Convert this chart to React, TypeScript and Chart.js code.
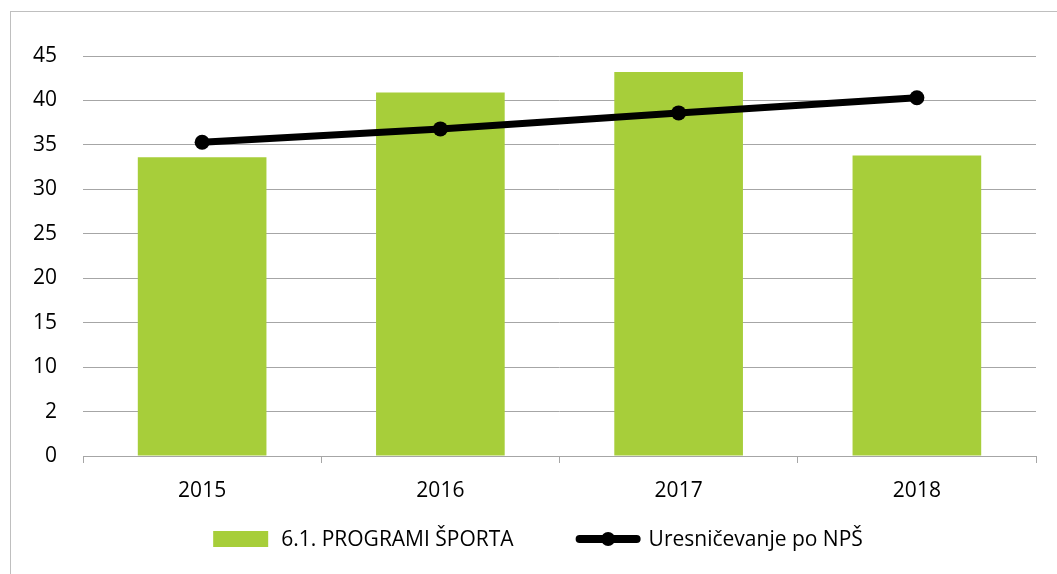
import React, { useEffect, useRef } from "react";
import { Chart, registerables } from "chart.js";

Chart.register(...registerables);

const categories = ["2015", "2016", "2017", "2018"];
const barValues = [33.6, 40.9, 43.2, 33.8];
const lineValues = [35.3, 36.8, 38.6, 40.3];
const yTickLabels = ["0", "2", "10", "15", "20", "25", "30", "35", "40", "45"];
const barLabel = "6.1. PROGRAMI ŠPORTA";
const lineLabel = "Uresničevanje po NPŠ";

const GREEN = "#A7CE3A";
const GRID = "#A6A6A6";
const FONT = "'Open Sans', sans-serif";

const framePlugin = {
  id: "frameAndLegend",
  afterDraw(chart: any) {
    const ctx = chart.ctx;
    ctx.save();
    // outer frame
    ctx.strokeStyle = "#BFBFBF";
    ctx.lineWidth = 1;
    ctx.strokeRect(10.5, 11.5, 1100, 700);

    // legend
    ctx.font = `21px ${FONT}`;
    ctx.textBaseline = "middle";
    ctx.fillStyle = "#000";
    const y = 539;
    const boxW = 55, boxH = 16, gap1 = 13, spacing = 62, lineW = 65, gap2 = 8;
    const t1 = ctx.measureText(barLabel).width;
    const t2 = ctx.measureText(lineLabel).width;
    const total = boxW + gap1 + t1 + spacing + lineW + gap2 + t2;
    let x = 538 - total / 2;
    ctx.fillStyle = GREEN;
    ctx.fillRect(x, y - boxH / 2, boxW, boxH);
    x += boxW + gap1;
    ctx.fillStyle = "#000";
    ctx.textAlign = "left";
    ctx.fillText(barLabel, x, y + 1);
    x += t1 + spacing;
    ctx.strokeStyle = "#000";
    ctx.lineWidth = 8;
    ctx.lineCap = "round";
    ctx.beginPath();
    ctx.moveTo(x + 4, y);
    ctx.lineTo(x + lineW - 4, y);
    ctx.stroke();
    ctx.beginPath();
    ctx.arc(x + lineW / 2, y, 7, 0, Math.PI * 2);
    ctx.fill();
    x += lineW + gap2;
    ctx.fillText(lineLabel, x, y + 1);
    ctx.restore();
  },
};

export default function App() {
  const ref = useRef<HTMLCanvasElement | null>(null);

  useEffect(() => {
    document.body.style.margin = "0";
    document.body.style.overflow = "hidden";
    const canvas = ref.current;
    if (!canvas) return;
    const chart = new Chart(canvas, {
      type: "bar",
      data: {
        labels: categories,
        datasets: [
          {
            type: "line",
            label: lineLabel,
            data: lineValues,
            borderColor: "#000",
            backgroundColor: "#000",
            borderWidth: 7,
            pointRadius: 7.5,
            pointBackgroundColor: "#000",
            pointBorderColor: "#000",
            pointBorderWidth: 0,
            tension: 0,
            order: 0,
          } as any,
          {
            type: "bar",
            label: barLabel,
            data: barValues,
            backgroundColor: GREEN,
            borderWidth: 0,
            categoryPercentage: 0.54,
            barPercentage: 1,
            order: 1,
          } as any,
        ],
      },
      options: {
        responsive: false,
        animation: false,
        layout: { padding: { top: 56, right: 21, left: 0, bottom: 0 } },
        plugins: {
          legend: { display: false },
          tooltip: { enabled: false },
        },
        scales: {
          x: {
            grid: {
              drawOnChartArea: false,
              drawTicks: true,
              tickLength: 7,
              color: GRID,
            },
            border: { display: true, color: GRID, width: 1 },
            ticks: {
              color: "#000",
              font: { family: FONT, size: 21 },
              padding: 15,
            },
            afterFit(scale: any) {
              scale.height = 574 - 456;
            },
          },
          y: {
            min: 0,
            max: 45,
            ticks: {
              stepSize: 5,
              color: "#000",
              font: { family: FONT, size: 21 },
              padding: 26,
              callback: (_v: any, i: number) => yTickLabels[i],
            },
            grid: { color: GRID, drawTicks: false, lineWidth: 1 },
            border: { display: false },
            afterFit(scale: any) {
              scale.width = 83;
            },
          },
        },
      },
      plugins: [framePlugin],
    });
    return () => chart.destroy();
  }, []);

  return (
    <div style={{ width: 1057, height: 574, position: "relative", background: "#fff" }}>
      <canvas ref={ref} width={1057} height={574} />
    </div>
  );
}
